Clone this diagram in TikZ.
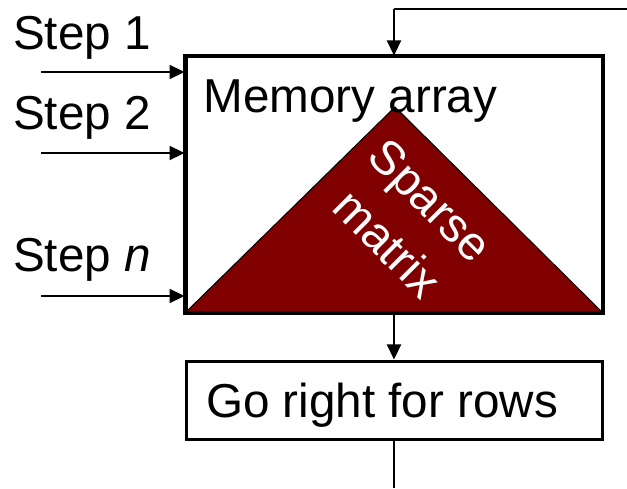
\documentclass[tikz,border=0pt]{standalone}
\usepackage{fontspec}
\setmainfont{Liberation Sans}
\usetikzlibrary{arrows.meta}
\definecolor{maroon}{HTML}{800000}
\begin{document}
\begin{tikzpicture}[x=1pt,y=1pt,
  txt/.style={font=\fontsize{47.6}{56}\selectfont, inner sep=0pt, anchor=base west},
  boxstyle/.style={draw=black, line width=3pt, fill=white, inner sep=0pt},
  arr/.style={line width=2.2pt, -{Triangle[length=15pt,width=14pt]}},
  ln/.style={line width=2.2pt}]
\useasboundingbox (0,0) rectangle (627,488);
% memory array box
\node[boxstyle, minimum width=416pt, minimum height=255pt] (mem) at (394,303.5) {};
\fill[maroon, draw=black, line width=1pt] (186,176) -- (395,381) -- (602,176) -- cycle;
\draw[line width=3pt] (mem.south west) rectangle (mem.north east);
\node[txt] (memtxt) at (203.5,375) {Memory array};
\node[font=\fontsize{47.6}{61}\selectfont, text=white, align=center, rotate=-45, inner sep=0pt] (sparse) at (409,266) {Sparse\\matrix};
% go right box
\node[boxstyle, minimum width=416pt, minimum height=78pt] (go) at (394,88) {};
\node[txt] (gotxt) at (206,71) {Go right for rows};
% step labels
\node[txt] (s1) at (13,438) {Step 1};
\node[txt] (s2) at (13,358) {Step 2};
\node[txt] (sn) at (13,216) {Step \textit{n}};
\coordinate (c1) at (41,416);
\coordinate (c2) at (41,335);
\coordinate (cn) at (41,192);
\draw[arr] (c1) -- (c1 -| mem.west);
\draw[arr] (c2) -- (c2 -| mem.west);
\draw[arr] (cn) -- (cn -| mem.west);
% feedback top
\coordinate (tr) at (627,479);
\coordinate (tl) at (394,479);
\draw[ln] (tr) -- (tl);
\draw[arr] (tl) -- (mem.north);
% down arrows
\draw[arr] (mem.south) -- (go.north);
\coordinate (bot) at (394,0);
\draw[ln] (go.south) -- (bot);
\end{tikzpicture}
\end{document}
